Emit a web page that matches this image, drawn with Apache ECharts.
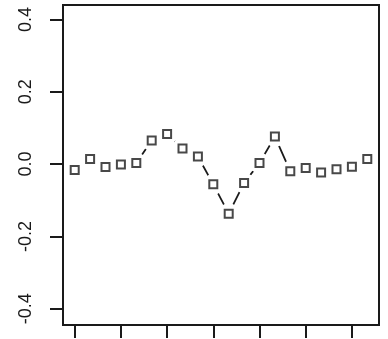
<!DOCTYPE html>
<html>
<head>
<meta charset="utf-8">
<script src="https://cdn.jsdelivr.net/npm/echarts@6/dist/echarts.min.js"></script>
<style>
html, body { margin: 0; padding: 0; background: #fff; }
#chart { width: 388px; height: 339px; }
</style>
</head>
<body>
<div id="chart"></div>
<script>
// lag index and values
var lags = [1, 2, 3, 4, 5, 6, 7, 8, 9, 10, 11, 12, 13, 14, 15, 16, 17, 18, 19, 20];
var values = [-0.016, 0.014, -0.008, -0.001, 0.003, 0.065, 0.083, 0.043, 0.021, -0.056,
              -0.137, -0.052, 0.003, 0.076, -0.020, -0.011, -0.023, -0.014, -0.007, 0.014];
var xTicks = [1, 4, 7, 10, 13, 16, 19];
var yTicks = [-0.4, -0.2, 0, 0.2, 0.4];

var pts = [];
for (var i = 0; i < lags.length; i++) {
    pts.push([lags[i], values[i]]);
}

var ink = '#1a1a1a';
var myChart = echarts.init(document.getElementById('chart'));
myChart.setOption({
    animation: false,
    grid: {
        left: 63, right: 9, top: 5, bottom: 14,
        show: true, borderColor: ink, borderWidth: 2,
        backgroundColor: 'transparent'
    },
    xAxis: {
        type: 'value', min: 0.24, max: 20.76,
        splitLine: { show: false },
        axisLine: { show: false, onZero: false },
        axisTick: { show: true, customValues: xTicks, length: 13, lineStyle: { color: ink, width: 2 } },
        axisLabel: { show: false }
    },
    yAxis: {
        type: 'value', min: -0.445, max: 0.44,
        splitLine: { show: false },
        axisLine: { show: false, onZero: false },
        axisTick: { show: true, customValues: yTicks, length: 13, lineStyle: { color: ink, width: 2 } },
        axisLabel: {
            show: true, customValues: yTicks, rotate: 90, margin: 28,
            fontFamily: 'Liberation Sans', fontSize: 18, color: ink,
            formatter: function (v) { return v.toFixed(1); }
        }
    },
    series: [
        {
            // line with white discs that leave gaps round each point
            type: 'line', data: pts, z: 2,
            showSymbol: true, showAllSymbol: true,
            symbol: 'circle', symbolSize: 21,
            itemStyle: { color: '#fff', borderWidth: 0 },
            lineStyle: { color: ink, width: 1.8 },
            silent: true
        },
        {
            type: 'scatter', data: pts, z: 3,
            symbol: 'rect', symbolSize: 8,
            itemStyle: { color: '#fff', borderColor: ink, borderWidth: 2 },
            silent: true
        }
    ]
});
</script>
</body>
</html>
